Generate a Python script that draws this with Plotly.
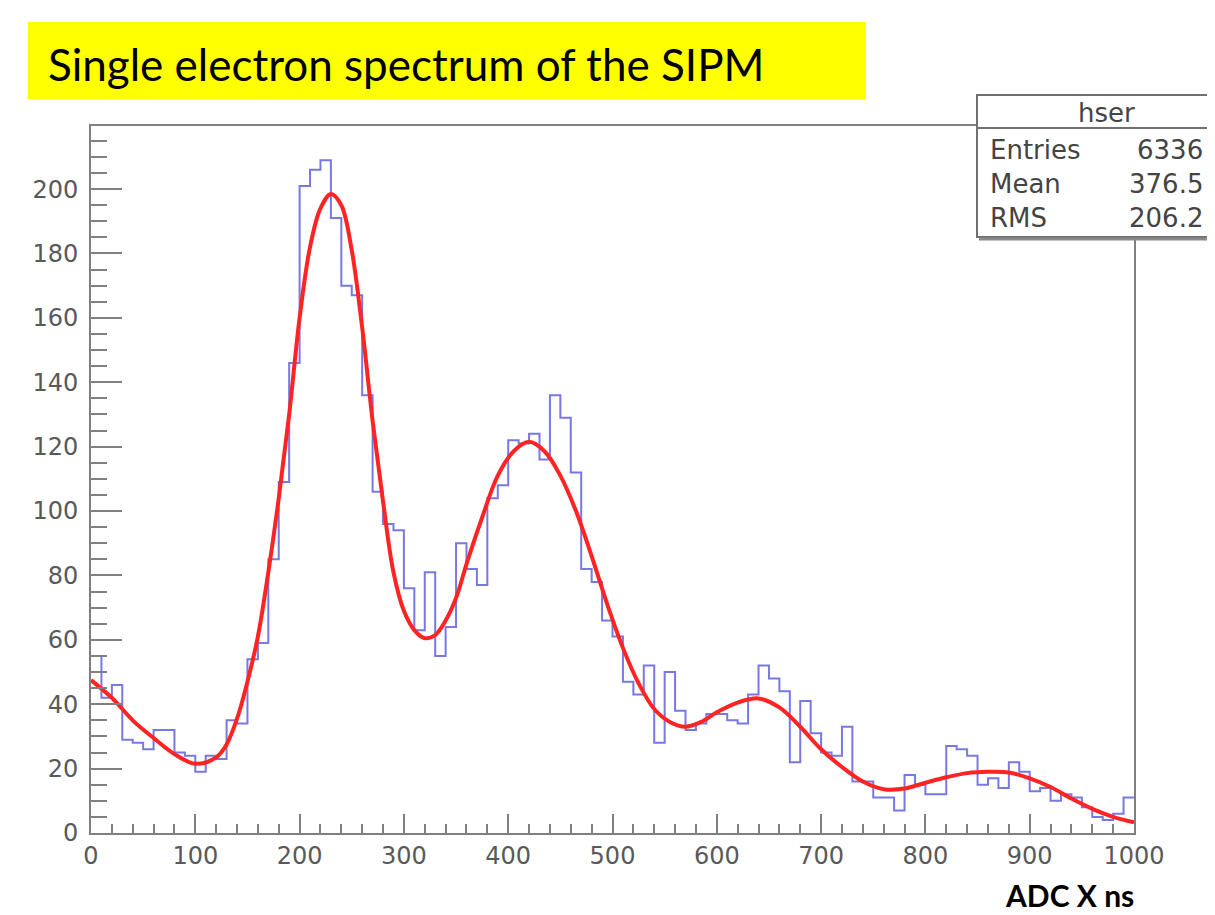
import plotly.graph_objects as go

# ---------------- data ----------------
bin_lo, bin_hi, n_bins = 0, 1000, 100
counts = [55, 42, 46, 29, 28, 26, 32, 32, 25, 24,
          19, 24, 23, 35, 34, 54, 59, 85, 109, 146,
          201, 206, 209, 191, 170, 167, 136, 106, 96, 94,
          76, 63, 81, 55, 64, 90, 82, 77, 104, 108,
          122, 121, 124, 116, 136, 129, 112, 82, 78, 66,
          61, 47, 43, 52, 28, 50, 38, 32, 34, 37,
          37, 35, 34, 43, 52, 48, 44, 22, 41, 31,
          25, 24, 33, 16, 16, 11, 11, 7, 18, 15,
          12, 12, 27, 26, 24, 15, 17, 14, 22, 19,
          13, 14, 10, 12, 11, 8, 5, 4, 6, 11]

fit_x = [0, 20, 40, 60, 80, 100, 120, 130, 140, 150, 160, 170, 180, 190, 200,
         210, 220, 230, 240, 250, 260, 270, 280, 290, 300, 310, 320, 330, 340,
         350, 360, 375, 390, 405, 420, 435, 450, 465, 480, 495, 510, 525, 540,
         555, 570, 585, 600, 620, 640, 660, 680, 700, 720, 740, 760, 780, 800,
         820, 840, 860, 880, 900, 920, 940, 960, 980, 1000]
fit_y = [47.5, 42, 35, 29.5, 24.5, 21.5, 23.5, 27.5, 35.5, 47, 61, 81, 104, 130, 160,
         182, 194, 198.5, 195, 181, 157, 128, 103, 81, 69, 63, 60.5, 61.5, 66,
         73, 83.5, 98, 111, 118.5, 121.5, 118.5, 111, 100, 86, 71, 57.5, 46.5, 38.5,
         34.5, 33, 34.5, 37.5, 40.5, 41.8, 39, 33, 26, 20.5, 16, 13.6, 13.8, 15.6,
         17.3, 18.6, 19, 18.8, 17, 14.3, 10.7, 7.5, 5, 3.3]

y_top = 219.6
title_text = "Single electron spectrum of the SIPM"
x_title = "ADC X ns"
stats_name = "hser"
stats_labels = ["Entries", "Mean", "RMS"]
stats_values = ["6336", "376.5", "206.2"]

# ---------------- layout helpers (screen pixels -> paper) ----------------
VIEW_W, VIEW_H = 1215, 915
OFF = 8                      # page body margin of the browser
W, H = VIEW_W - OFF, VIEW_H - OFF
L, R, T, B = 91, 1134, 126, 833   # plot frame in screen pixels


def px(x):
    return (x - L) / (R - L)


def py(y):
    return (B - y) / (B - T)


bw = (bin_hi - bin_lo) / n_bins
edges = [bin_lo + i * bw for i in range(n_bins + 1)]
hist_y = counts + [counts[-1]]

fig = go.Figure()
fig.add_trace(go.Scatter(x=edges, y=hist_y, mode="lines",
                         line=dict(shape="hv", color="#7878e4", width=2),
                         showlegend=False, hoverinfo="skip"))
fig.add_trace(go.Scatter(x=fit_x, y=fit_y, mode="lines",
                         line=dict(shape="spline", smoothing=1.0, color="#ff2424", width=4),
                         showlegend=False, hoverinfo="skip"))

axis_col = "#808080"
tick_font = dict(family="DejaVu Sans", size=24, color="#595959")

fig.update_layout(
    width=W, height=H,
    margin=dict(l=L - OFF, r=W - (R - OFF), t=T - OFF, b=VIEW_H - B, pad=0),
    paper_bgcolor="white", plot_bgcolor="white",
    xaxis=dict(range=[bin_lo, bin_hi], showgrid=False, zeroline=False,
               showline=True, mirror=True, linecolor=axis_col, linewidth=2,
               ticks="inside", ticklen=19, tickwidth=2, tickcolor=axis_col,
               tick0=0, dtick=100, tickfont=tick_font, ticklabelstandoff=0,
               minor=dict(ticks="inside", ticklen=9, tickwidth=2, tickcolor=axis_col,
                          tick0=0, dtick=20, showgrid=False)),
    yaxis=dict(range=[0, y_top], showgrid=False, zeroline=False,
               showline=True, mirror=True, linecolor=axis_col, linewidth=2,
               ticks="inside", ticklen=31, tickwidth=2, tickcolor=axis_col,
               tick0=0, dtick=20, tickfont=tick_font, ticklabelstandoff=6,
               minor=dict(ticks="inside", ticklen=16, tickwidth=2, tickcolor=axis_col,
                          tick0=0, dtick=5, showgrid=False)),
)

shapes = [
    # yellow title box
    dict(type="rect", xref="paper", yref="paper", x0=px(28), x1=px(866), y0=py(99), y1=py(22),
         fillcolor="#ffff00", line=dict(width=0), layer="above"),
    # stats box
    dict(type="rect", xref="paper", yref="paper", x0=px(977), x1=px(1240), y0=py(237), y1=py(95),
         fillcolor="white", line=dict(color="#707070", width=2), layer="above"),
    dict(type="line", xref="paper", yref="paper", x0=px(977), x1=px(1240), y0=py(128), y1=py(128),
         line=dict(color="#707070", width=2), layer="above"),
    dict(type="line", xref="paper", yref="paper", x0=px(979), x1=px(1240), y0=py(239), y1=py(239),
         line=dict(color="#8a8a8a", width=3), layer="above"),
]

annotations = [
    dict(text=title_text, xref="paper", yref="paper", x=px(46), y=py(64),
         xanchor="left", yanchor="middle", showarrow=False,
         font=dict(family="Lato", size=44, color="black")),
    dict(text="<b>" + x_title + "</b>", xref="paper", yref="paper", x=px(1069), y=py(895),
         xanchor="center", yanchor="middle", showarrow=False,
         font=dict(family="Lato", size=30, color="black")),
    dict(text=stats_name, xref="paper", yref="paper", x=px(1106), y=py(113),
         xanchor="center", yanchor="middle", showarrow=False,
         font=dict(family="DejaVu Sans", size=26, color="#444444")),
]
row_y = [150, 184, 218]
for lab, val, yy in zip(stats_labels, stats_values, row_y):
    annotations.append(dict(text=lab, xref="paper", yref="paper", x=px(988), y=py(yy),
                            xanchor="left", yanchor="middle", showarrow=False,
                            font=dict(family="DejaVu Sans", size=26, color="#444444")))
    annotations.append(dict(text=val, xref="paper", yref="paper", x=px(1205), y=py(yy),
                            xanchor="right", yanchor="middle", showarrow=False,
                            font=dict(family="DejaVu Sans", size=26, color="#444444")))

fig.update_layout(shapes=shapes, annotations=annotations)
fig.write_html("out.html")
